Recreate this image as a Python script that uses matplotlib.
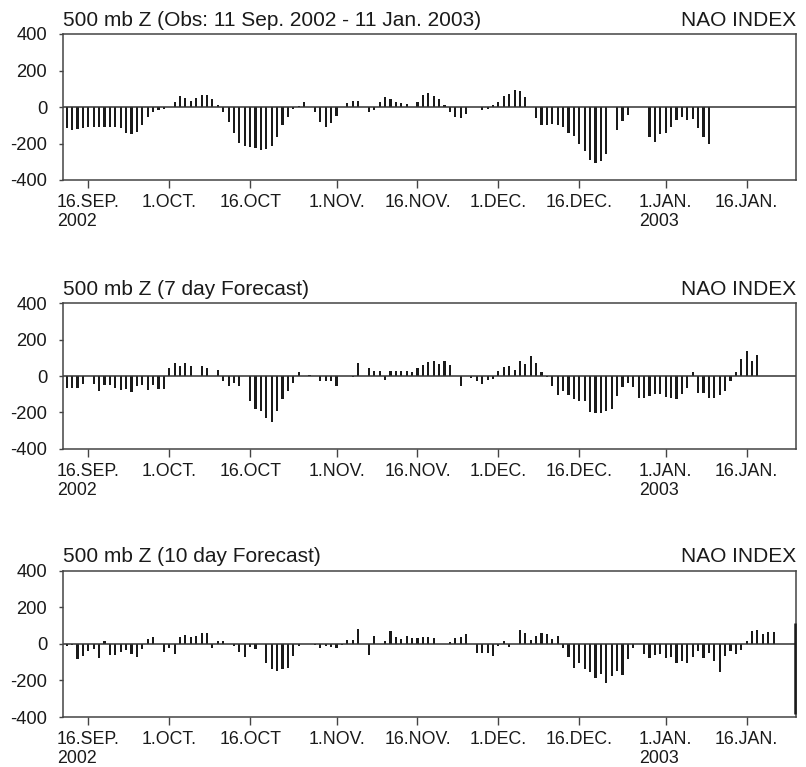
import numpy as np
import pandas as pd
import matplotlib
matplotlib.use("Agg")
import matplotlib.pyplot as plt
import matplotlib.dates as mdates

plt.rcParams['font.family'] = ['Liberation Sans', 'DejaVu Sans']
plt.rcParams['axes.unicode_minus'] = False

# daily NAO index values, first bar = 12 Sep 2002 (None = no bar)
obs = [-115, -125, -120, -113, -108, -110, -110, -110, -110, -110,
       -115, -140, -148, -135, -100, -55, -30, -15, -12, None,
       30, 60, 50, 35, 50, 65, 65, 45, 10, -25,
       -80, -145, -195, -215, -220, -225, -235, -230, -215, -165,
       -100, -55, -10, 5, 30, None, -30, -80, -110, -90,
       -50, None, 20, 35, 35, None, -25, -15, 25, 55,
       45, 30, 20, 15, None, 30, 65, 75, 60, 45,
       10, -25, -55, -60, -40, None, None, -15, -10, 10,
       30, 60, 70, 95, 85, 55, None, -60, -100, -100,
       -95, -100, -110, -140, -160, -200, -240, -290, -305, -295,
       -260, None, -125, -75, -45, None, None, None, -165, -190,
       -150, -145, -110, -70, -55, -70, -65, -115, -165, -200]

fc7 = [-65, -65, -65, -45, None, -45, -85, -50, -50, -65,
       -75, -70, -90, -55, -50, -75, -50, -70, -70, 45,
       70, 55, 70, 55, None, 55, 45, None, 35, -30,
       -55, -40, -55, None, -140, -180, -190, -230, -255, -190,
       -125, -82, -38, 20, None, 5, None, -30, -30, -30,
       -55, None, None, -5, 70, None, 45, 30, 25, -20,
       25, 30, 30, 25, 20, 45, 60, 75, 85, 65,
       85, 60, None, -55, None, -10, -30, -45, -20, -15,
       25, 50, 55, 35, 85, 65, 110, 70, 20, -5,
       -55, -105, -80, -105, -125, -140, -140, -200, -205, -205,
       -195, -180, -110, -60, -40, -60, -120, -120, -110, -100,
       -100, -115, -120, -125, -100, -65, 20, -95, -95, -120,
       -120, -105, -80, -25, 20, 95, 135, 85, 115]

fc10 = [-10, -5, -85, -65, -40, -30, -75, 15, -60, -60,
        -45, -35, -55, -70, -30, 25, 35, None, -45, -20,
        -55, 35, 50, 35, 45, 60, 60, -25, 15, 15,
        None, -10, -45, -70, -15, -30, None, -105, -140, -150,
        -140, -130, -65, -10, None, None, -5, -25, -10, -15,
        -25, -5, 20, 20, 80, None, -60, 45, None, 15,
        70, 35, 25, 45, 30, 30, 40, 35, 30, None,
        None, 10, 30, 40, 55, None, -50, -50, -50, -65,
        -10, 15, -15, None, 75, 60, 20, 45, 60, 55,
        25, 45, -20, -70, -130, -105, -135, -155, -185, -165,
        -215, -175, -150, -170, -85, -25, None, -55, -75, -60,
        -55, -75, -70, -105, -95, -105, -70, -40, -75, -50,
        -95, -155, -65, -40, -55, -35, 15, 70, 75, 55,
        65, 65]
# odd spike on the right edge of the 10 day panel
spike_day = '2003-01-25'
spike = (113, -383)

titles = ['500 mb Z (Obs: 11 Sep. 2002 - 11 Jan. 2003)',
          '500 mb Z (7 day Forecast)',
          '500 mb Z (10 day Forecast)']
tick_dates = ['2002-09-16', '2002-10-01', '2002-10-16', '2002-11-01', '2002-11-16',
              '2002-12-01', '2002-12-16', '2003-01-01', '2003-01-16']
tick_labels = ['16.SEP.\n2002', '1.OCT.', '16.OCT', '1.NOV.', '16.NOV.',
               '1.DEC.', '16.DEC.', '1.JAN.\n2003', '16.JAN.']

ink = '#1a1a1a'
fig = plt.figure(figsize=(8.06, 7.67), dpi=100)
# axes boxes in pixels: (top, bottom)
boxes = [(34, 180), (303.3, 448.7), (570.7, 717)]
left_px, right_px = 62.7, 796

start = mdates.date2num(pd.Timestamp('2002-09-12'))

for k, vals in enumerate([obs, fc7, fc10]):
    top, bot = boxes[k]
    ax = fig.add_axes([left_px / 806, 1 - bot / 767,
                       (right_px - left_px) / 806, (bot - top) / 767])
    v = np.array(vals, dtype=float)
    days = pd.date_range('2002-09-12', periods=len(v), freq='D')
    ax.bar(days, v, width=0.4, color=ink, linewidth=0)
    if k == 2:
        ax.vlines(mdates.date2num(pd.Timestamp(spike_day)), spike[1], spike[0],
                  color=ink, lw=1.8, clip_on=False, zorder=5)
    ax.axhline(0, color='#333333', lw=1.1)
    ax.set_xlim(start - 0.74, start + 135.15)
    ax.set_ylim(-400, 400)
    ax.set_yticks([-400, -200, 0, 200, 400])
    ax.set_xticks([mdates.date2num(pd.Timestamp(d)) for d in tick_dates])
    ax.set_xticklabels(tick_labels)
    for lab in ax.get_xticklabels():
        lab.set_multialignment('left')
    ax.tick_params(axis='x', length=6, width=1, color='#444444', pad=4,
                   labelsize=12.8, labelcolor=ink)
    ax.tick_params(axis='y', length=3.2, width=1, color='#444444', pad=8,
                   labelsize=13.2, labelcolor=ink)
    for sp in ax.spines.values():
        sp.set_color('#444444')
        sp.set_linewidth(1.1)
    ax.set_title(titles[k], loc='left', fontsize=15, color=ink, pad=6)
    ax.set_title('NAO INDEX', loc='right', fontsize=15, color=ink, pad=6)

fig.savefig('out.png', dpi=100)
